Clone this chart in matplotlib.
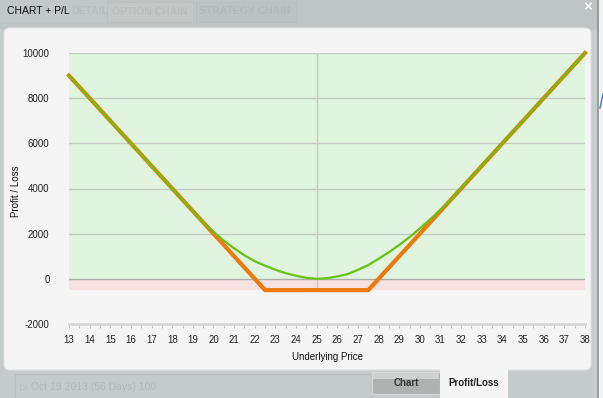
import matplotlib
matplotlib.use("Agg")
import matplotlib.pyplot as plt
from matplotlib.patches import Rectangle, FancyBboxPatch
import numpy as np

plt.rcParams['font.family'] = ['Liberation Sans', 'DejaVu Sans']

# expiration P/L (orange) - strangle, strikes 22.5 / 27.5
exp_price = [13, 22.5, 27.5, 38]
exp_pl = [9000, -500, -500, 10000]

# today's P/L (green)
now_price = [13, 14, 15, 16, 17, 18, 19, 19.5, 20, 20.5, 21, 21.5, 22, 22.5, 23, 23.5,
             24, 24.5, 25, 25.5, 26, 26.5, 27, 27.5, 28, 28.5, 29, 29.5, 30, 30.5,
             31, 31.5, 32, 33, 34, 35, 36, 37, 38]
now_pl = [9000, 8000, 7000, 6000, 5000, 3990, 3010, 2490, 2080, 1690, 1350, 1040, 780,
          580, 400, 250, 135, 45, 0, 30, 105, 210, 400, 610, 890, 1180, 1500, 1850,
          2230, 2640, 3060, 3500, 4020, 5010, 6000, 7000, 8000, 9000, 10000]

y_ticks = [10000, 8000, 6000, 4000, 2000, 0, -2000]
x_ticks = list(range(13, 39))

fig = plt.figure(figsize=(6.03, 3.98), dpi=100)
fig.patch.set_facecolor('#c5cbca')

# window chrome drawn in pixel coords
bg = fig.add_axes([0, 0, 1, 1])
bg.set_xlim(0, 603)
bg.set_ylim(398, 0)
bg.axis('off')
bg.add_patch(Rectangle((0, 0), 603, 28, color='#bec4c3'))
bg.add_patch(Rectangle((0, 0), 106, 22, color='#c2c8c7'))
bg.add_patch(Rectangle((107, 2), 86, 20, color='#c3c8c7', ec='#b9bfbe', lw=0.6))
bg.add_patch(Rectangle((196, 2), 100, 20, color='#bcc2c1', ec='#b9bfbe', lw=0.6))
bg.text(90, 11, 'DETAIL', fontsize=7.5, color='#b8bebd', ha='center', va='center', fontweight='bold')
bg.text(150, 12, 'OPTION CHAIN', fontsize=7.5, color='#b8bebd', ha='center', va='center', fontweight='bold')
bg.text(245, 11, 'STRATEGY CHAIN', fontsize=7.5, color='#b3b9b8', ha='center', va='center', fontweight='bold')
bg.add_patch(Rectangle((0, 0), 60, 22, color='#c2c8c7'))
bg.text(7, 11, 'CHART + P/L', fontsize=7.5, color='#111111', ha='left', va='center')
bg.text(588, 7, '×', fontsize=11, color='white', ha='center', va='center', fontweight='bold')
bg.plot([598, 598], [0, 398], color='#8e9594', lw=1.2)
bg.add_patch(Rectangle((599, 0), 4, 398, color='#f2f2f2'))
bg.plot([600, 603], [108, 94], color='#3a78d0', lw=1)

bg.add_patch(FancyBboxPatch((4, 28), 587, 342, boxstyle='round,pad=0,rounding_size=6',
                            fc='#f5f5f5', ec='#e2e2e2', lw=0.8))

# bottom strip
bg.add_patch(Rectangle((15, 374), 357, 30, fc='none', ec='#b9bebd', lw=0.8))
bg.text(20, 387, '▷ Oct 19 2013 (56 Days) 100', fontsize=7.5, color='#b3b9b8',
        ha='left', va='center', family=['Liberation Sans', 'DejaVu Sans'])
bg.add_patch(Rectangle((372, 372), 68, 22, fc='#b0b2b2', ec='#d8d8d8', lw=0.8))
bg.add_patch(Rectangle((373, 373), 66, 6, fc='#cfd1d1', ec='none'))
bg.text(406, 383, 'Chart', fontsize=7, color='#333333', ha='center', va='center', fontweight='bold')
bg.add_patch(Rectangle((440, 369), 68, 29, fc='#f5f5f5', ec='none'))
bg.text(474, 383, 'Profit/Loss', fontsize=7, color='#222222', ha='center', va='center', fontweight='bold')

# chart
ax = fig.add_axes([69 / 603, 1 - 324 / 398, 516 / 603, 271 / 398])
ax.set_facecolor('none')
ax.set_xlim(13, 38)
ax.set_ylim(-2000, 10000)

low = min(exp_pl)
ax.axhspan(0, 10000, color='#e1f4df', lw=0, zorder=0)
ax.axhspan(low, 0, color='#f6e1e1', lw=0, zorder=0)
for yv in y_ticks[:-2]:
    ax.axhline(yv, color='#c3cbc3', lw=1, zorder=1)
ax.axhline(0, color='#a9b0a9', lw=1, zorder=1)
ax.vlines(25, low, 10000, color='#c9c9c9', lw=1, zorder=1)

ax.plot(exp_price, exp_pl, color='#ec7a0c', lw=3, zorder=3, clip_on=False,
        solid_joinstyle='miter')
ax.plot(now_price, now_pl, color='#69c112', lw=1.6, zorder=4, clip_on=False)

for s in ['top', 'right', 'left']:
    ax.spines[s].set_visible(False)
ax.spines['bottom'].set_color('#d9d9d9')
ax.spines['bottom'].set_linewidth(2)

ax.set_yticks(y_ticks)
ax.set_yticklabels([str(v) for v in y_ticks])
ax.tick_params(axis='y', length=0, pad=14, labelsize=7, labelcolor='#222222')
ax.set_xticks(x_ticks)
ax.set_xticks([v + 0.5 for v in x_ticks[:-1]], minor=True)
ax.tick_params(axis='x', which='both', length=3, width=0.8, color='#c4c4c4',
               labelsize=7, labelcolor='#222222', pad=5)

ax.set_xlabel('Underlying Price', fontsize=7, color='#111111')
ax.xaxis.set_label_coords(0.5, (324 - 357) / 271, transform=ax.transAxes)
ax.xaxis.label.set_va('center')
ax.set_ylabel('Profit / Loss', fontsize=7, color='#111111')
ax.yaxis.set_label_coords((16 - 69) / 516, 0.5 - 3 / 271)
ax.yaxis.label.set_va('center')

fig.savefig('out.png', dpi=100)
